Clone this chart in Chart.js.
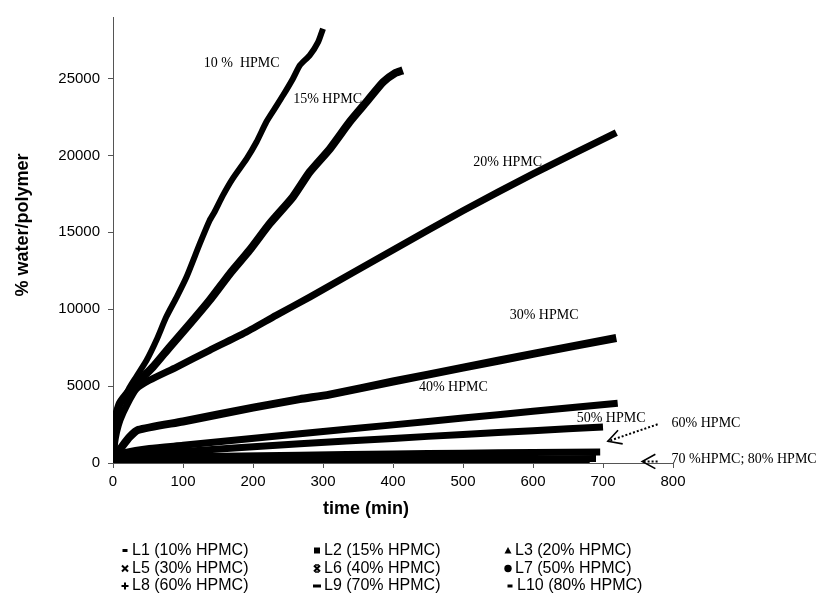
<!DOCTYPE html>
<html>
<head>
<meta charset="utf-8">
<script src="https://cdn.jsdelivr.net/npm/chart.js@4.4.1/dist/chart.umd.min.js"></script>
<style>
html,body{margin:0;padding:0;background:#fff;}
canvas{display:block;}
</style>
</head>
<body>
<canvas id="c" width="817" height="593"></canvas>
<script>
// ---------- data ----------
const seriesLabels = ['L1 (10% HPMC)','L2 (15% HPMC)','L3 (20% HPMC)','L5 (30% HPMC)','L6 (40% HPMC)','L7 (50% HPMC)','L8 (60% HPMC)','L9 (70% HPMC)','L10 (80% HPMC)'];

const L1_t = [0,1,3,8,14,24,33,48,62,76,91,105,124,138,145,157,171,191,205,219,231,243,257,267,281,293,300];
const L1_v = [0,1500,2900,3700,4080,4940,5590,6680,7980,9490,10790,12090,14260,15770,16320,17400,18490,19790,20870,22170,23040,23910,24990,25860,26510,27370,28240];

const L2_t = [0,1,3,10,24,38,57,81,110,138,167,195,224,257,281,310,338,362,386,403,414];
const L2_v = [0,1400,2800,3900,4730,5380,6240,7540,9060,10580,12310,13830,15570,17300,18920,20440,22170,23470,24770,25350,25530];

const L3_t = [0,2,5,10,20,33,52,91,138,186,233,281,400,500,600,719];
const L3_v = [0,1200,2000,2800,3800,4800,5380,6240,7330,8410,9600,10790,13850,16400,18800,21480];

const L5_t = [0,3,10,24,36,100,200,267,309,400,500,600,719];
const L5_v = [0,500,900,1700,2150,2700,3600,4150,4450,5300,6200,7100,8130];

const L6_t = [0,5,15,52,100,267,400,500,600,721];
const L6_v = [0,450,650,940,1150,1900,2480,2920,3360,3880];

const L7_t = [0,5,15,52,100,267,400,500,600,700];
const L7_v = [0,250,420,600,750,1250,1600,1860,2100,2340];

const L8_t = [0,5,20,50,100,267,400,500,600,696];
const L8_v = [0,150,280,350,400,500,590,640,680,715];

const L9_t = [0,5,20,100,267,400,500,600,690];
const L9_v = [0,80,120,150,175,210,240,265,290];

const L10_t = [0,5,20,100,267,400,500,600,681];
const L10_v = [0,40,60,80,95,105,115,125,135];

const xTickValues = [0,100,200,300,400,500,600,700,800];
const yTickValues = [0,5000,10000,15000,20000,25000];

const xTitle = 'time (min)';
const yTitle = '% water/polymer';

const annotationTexts = ['10 %  HPMC','15% HPMC','20% HPMC','30% HPMC','40% HPMC','50% HPMC','60% HPMC','70 %HPMC; 80% HPMC'];
// anchor (left, middle) of each annotation, in data units
const annotationX = [129.6, 257.4, 514.6, 566.7, 437, 662.4, 798, 798];
const annotationY = [25990, 23650, 19570, 9600, 4920, 2910, 2580, 210];

// ---------- styling ----------
const seriesT = [L1_t,L2_t,L3_t,L5_t,L6_t,L7_t,L8_t,L9_t,L10_t];
const seriesV = [L1_v,L2_v,L3_v,L5_v,L6_v,L7_v,L8_v,L9_v,L10_v];
const lineWidths = [6,8,7,8,7,7,7,7,6];
const markerStyles = ['dash','square','triangle','cross','star','circle','plus','bar','dash'];

const SANS = '"Liberation Sans", Arial, sans-serif';
const SERIF = '"Liberation Serif", "Times New Roman", serif';

const datasets = seriesLabels.map((lab, i) => ({
  label: lab,
  data: seriesT[i].map((t, j) => ({x: t, y: seriesV[i][j]})),
  borderColor: '#000',
  backgroundColor: '#000',
  borderWidth: lineWidths[i],
  pointRadius: 0,
  fill: false,
  tension: 0.2,
  borderJoinStyle: 'round'
}));

function drawMarker(ctx, style, cx, cy) {
  ctx.save();
  ctx.fillStyle = '#000';
  ctx.strokeStyle = '#000';
  ctx.lineWidth = 2;
  ctx.beginPath();
  switch (style) {
    case 'dash': ctx.fillRect(cx - 2.5, cy - 1.5, 5, 3); break;
    case 'square': ctx.fillRect(cx - 3, cy - 3, 6, 6); break;
    case 'triangle':
      ctx.moveTo(cx, cy - 3.5); ctx.lineTo(cx + 3.5, cy + 3); ctx.lineTo(cx - 3.5, cy + 3); ctx.closePath(); ctx.fill(); break;
    case 'cross':
      ctx.moveTo(cx - 3, cy - 3); ctx.lineTo(cx + 3, cy + 3); ctx.moveTo(cx + 3, cy - 3); ctx.lineTo(cx - 3, cy + 3); ctx.stroke(); break;
    case 'star':
      ctx.moveTo(cx - 3, cy - 3); ctx.lineTo(cx + 3, cy + 3); ctx.moveTo(cx + 3, cy - 3); ctx.lineTo(cx - 3, cy + 3);
      ctx.stroke();
      ctx.lineWidth = 1.5;
      ctx.beginPath();
      ctx.moveTo(cx - 2, cy - 3.5); ctx.lineTo(cx + 2, cy - 3.5); ctx.moveTo(cx - 2, cy + 3.5); ctx.lineTo(cx + 2, cy + 3.5);
      ctx.stroke(); break;
    case 'circle': ctx.arc(cx, cy, 3.7, 0, Math.PI * 2); ctx.fill(); break;
    case 'plus':
      ctx.moveTo(cx - 3.5, cy); ctx.lineTo(cx + 3.5, cy); ctx.moveTo(cx, cy - 3.5); ctx.lineTo(cx, cy + 3.5); ctx.stroke(); break;
    case 'bar': ctx.fillRect(cx - 4, cy - 1.5, 8, 3); break;
  }
  ctx.restore();
}

const extrasPlugin = {
  id: 'extras',
  afterDatasetsDraw(chart) {
    const ctx = chart.ctx;
    const xs = chart.scales.x, ys = chart.scales.y;
    // annotations
    ctx.save();
    ctx.fillStyle = '#000';
    ctx.font = '14px ' + SERIF;
    ctx.textAlign = 'left';
    ctx.textBaseline = 'middle';
    annotationTexts.forEach((txt, i) => {
      ctx.fillText(txt, xs.getPixelForValue(annotationX[i]), ys.getPixelForValue(annotationY[i]));
    });
    ctx.restore();

    // dotted arrows
    const arrows = [
      {from: [778, 2516], to: [707, 1411]},
      {from: [778, 100], to: [756, 100]}
    ];
    arrows.forEach(a => {
      const x1 = xs.getPixelForValue(a.from[0]), y1 = ys.getPixelForValue(a.from[1]);
      const x2 = xs.getPixelForValue(a.to[0]), y2 = ys.getPixelForValue(a.to[1]);
      ctx.save();
      ctx.strokeStyle = '#000';
      ctx.lineWidth = 2;
      ctx.setLineDash([2, 2]);
      ctx.beginPath(); ctx.moveTo(x1, y1); ctx.lineTo(x2, y2); ctx.stroke();
      ctx.setLineDash([]);
      ctx.lineWidth = 1.6;
      const ang = Math.atan2(y1 - y2, x1 - x2);
      const len = 15, spread = 0.5;
      ctx.beginPath();
      ctx.moveTo(x2 + len * Math.cos(ang + spread), y2 + len * Math.sin(ang + spread));
      ctx.lineTo(x2, y2);
      ctx.lineTo(x2 + len * Math.cos(ang - spread), y2 + len * Math.sin(ang - spread));
      ctx.stroke();
      ctx.restore();
    });
  },
  afterDraw(chart) {
    const ctx = chart.ctx;
    // axis titles
    ctx.save();
    ctx.fillStyle = '#000';
    ctx.font = 'bold 18px ' + SANS;
    ctx.textAlign = 'center';
    ctx.textBaseline = 'middle';
    ctx.fillText(xTitle, 366, 509);
    ctx.translate(23, 225);
    ctx.rotate(-Math.PI / 2);
    ctx.fillText(yTitle, 0, 0);
    ctx.restore();

    // legend (3 columns)
    const colMarker = [125, 317, 508];
    const rowY = [550.5, 568.5, 586];
    ctx.save();
    ctx.fillStyle = '#000';
    ctx.font = '16px ' + SANS;
    ctx.textAlign = 'left';
    ctx.textBaseline = 'middle';
    chart.data.datasets.forEach((ds, i) => {
      const col = i % 3, row = Math.floor(i / 3);
      const mx = colMarker[col] + (i === 8 ? 2 : 0);
      drawMarker(ctx, markerStyles[i], mx, rowY[row]);
      ctx.fillText(ds.label, mx + 7, rowY[row]);
    });
    ctx.restore();
  }
};

const axisColor = '#555';
new Chart(document.getElementById('c'), {
  type: 'line',
  data: { datasets },
  options: {
    responsive: false,
    animation: false,
    devicePixelRatio: 1,
    layout: { padding: { left: 0, right: 144, top: 16, bottom: 73 } },
    plugins: { legend: { display: false }, tooltip: { enabled: false } },
    scales: {
      x: {
        type: 'linear', min: 0, max: 800,
        afterFit(s) { s.height = 57; },
        afterBuildTicks(s) { s.ticks = xTickValues.map(v => ({ value: v })); },
        grid: { drawOnChartArea: false, drawTicks: true, tickLength: 5, color: axisColor },
        border: { display: true, color: axisColor, width: 1 },
        ticks: { font: { family: SANS, size: 15 }, color: '#000', padding: 5, maxRotation: 0, autoSkip: false,
                 callback: v => String(v) },
        title: { display: false }
      },
      y: {
        type: 'linear', min: 0, max: 29000,
        afterFit(s) { s.width = 113; },
        afterBuildTicks(s) { s.ticks = yTickValues.map(v => ({ value: v })); },
        grid: { drawOnChartArea: false, drawTicks: true, tickLength: 5, color: axisColor },
        border: { display: true, color: axisColor, width: 1 },
        ticks: { font: { family: SANS, size: 15 }, color: '#000', padding: 8, autoSkip: false,
                 callback: v => String(v) },
        title: { display: false }
      }
    }
  },
  plugins: [extrasPlugin]
});
</script>
</body>
</html>
